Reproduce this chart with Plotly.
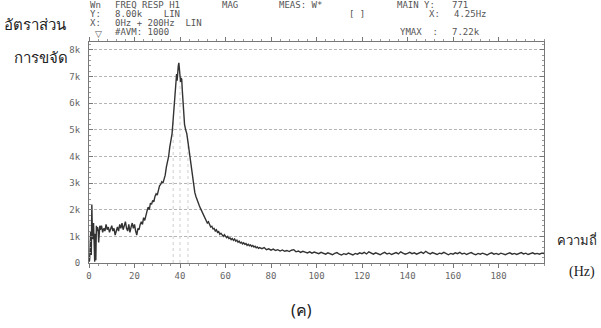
import numpy as np
import plotly.graph_objects as go

# ---- data (magnitude in thousands) ----
freq_low = [0, 0.25, 0.5, 0.75, 1.0, 1.25, 1.5, 1.75, 2.0, 2.25, 2.5, 2.75, 3.0, 3.25, 3.5, 3.75, 4.0, 4.25, 4.5, 4.75]
mag_low = [0.05, 0.1, 0.6, 1.2, 0.3, 2.2, 1.0, 0.9, 1.5, 0.2, 0.05, 1.1, 0.1, 1.4, 1.2, 1.35, 1.25, 0.77, 1.3, 1.4]

freq_mid = [5.0, 5.5, 6.0, 6.5, 7.0, 7.5, 8.0, 8.5, 9.0, 9.5, 10, 10.5, 11, 11.5, 12, 12.5, 13, 13.5, 14, 14.5,
            15, 15.5, 16, 16.5, 17, 17.5, 18, 18.5, 19, 19.5, 20, 20.5, 21, 21.5, 22, 22.5, 23, 23.5, 24, 24.5]
mag_mid = [1.25, 1.4, 1.15, 1.3, 1.2, 1.45, 1.25, 1.35, 1.15, 1.3, 1.4, 1.2, 1.3, 1.05, 1.25, 1.35, 1.2, 1.45, 1.3, 1.5,
           1.25, 1.4, 1.55, 1.3, 1.2, 1.45, 1.15, 1.35, 1.5, 1.3, 1.45, 1.2, 1.05, 1.3, 1.25, 1.45, 1.55, 1.45, 1.7, 1.6]

freq_peak = [25, 25.5, 26, 26.5, 27, 27.5, 28, 28.5, 29, 29.5, 30, 30.5, 31, 31.5, 32, 32.5, 33, 33.5, 34, 34.5,
             35, 35.5, 36, 36.5, 37, 37.5, 38, 38.5, 38.75, 39, 39.25, 39.5, 39.75, 40, 40.25, 40.5, 40.75, 41,
             41.5, 42, 42.5, 43, 43.5, 44, 44.5, 45, 45.5, 46, 46.5, 47, 47.5, 48, 48.5, 49, 49.5, 50, 50.5, 51,
             51.5, 52, 52.5, 53, 53.5, 54, 54.5, 55, 55.5, 56, 56.5, 57, 57.5, 58, 58.5, 59, 59.5, 60, 60.5, 61,
             61.5, 62, 62.5, 63, 63.5, 64, 64.5, 65, 65.5, 66, 66.5, 67, 67.5, 68, 68.5, 69, 69.5, 70, 70.5, 71,
             71.5, 72, 72.5, 73, 73.5, 74, 74.5, 75]
mag_peak = [1.85, 1.95, 2.1, 2.0, 2.25, 2.2, 2.35, 2.3, 2.5, 2.6, 2.55, 2.75, 2.9, 2.95, 3.05, 3.0, 3.15, 3.3, 3.6, 3.75,
            4.0, 4.35, 4.6, 4.85, 5.4, 5.9, 6.6, 7.1, 6.85, 7.3, 7.4, 7.52, 7.2, 6.9, 6.8, 6.95, 6.9, 6.5,
            5.7, 5.2, 5.0, 4.85, 4.55, 4.2, 3.95, 3.5, 3.15, 2.9, 2.65, 2.5, 2.35, 2.25, 2.15, 2.05, 1.95, 1.85, 1.75, 1.7,
            1.6, 1.5, 1.55, 1.42, 1.35, 1.38, 1.28, 1.3, 1.2, 1.25, 1.15, 1.18, 1.08, 1.12, 1.05, 1.0, 1.06, 0.98, 0.95, 1.0,
            0.92, 0.94, 0.88, 0.92, 0.85, 0.9, 0.82, 0.86, 0.78, 0.82, 0.75, 0.78, 0.72, 0.76, 0.7, 0.73, 0.66, 0.7, 0.65, 0.68,
            0.62, 0.66, 0.6, 0.63, 0.57, 0.6, 0.55, 0.58]

freq_tail = list(range(76, 201))
mag_tail = [0.54, 0.58, 0.5, 0.53, 0.48, 0.52, 0.47, 0.5, 0.45, 0.49, 0.44, 0.47, 0.43, 0.48, 0.5, 0.42, 0.45, 0.4, 0.44, 0.41,
            0.38, 0.42, 0.37, 0.41, 0.38, 0.35, 0.4, 0.36, 0.33, 0.38, 0.35, 0.31, 0.36, 0.39, 0.33, 0.3, 0.35, 0.32, 0.37, 0.34,
            0.3, 0.36, 0.33, 0.38, 0.35, 0.4, 0.34, 0.42, 0.36, 0.33, 0.38, 0.35, 0.31, 0.36, 0.4, 0.34, 0.37, 0.32, 0.36, 0.39,
            0.34, 0.42, 0.37, 0.33, 0.36, 0.4, 0.35, 0.38, 0.33, 0.37, 0.41, 0.36, 0.44, 0.38, 0.34, 0.39, 0.36, 0.32, 0.37, 0.35,
            0.4, 0.34, 0.31, 0.36, 0.33, 0.38, 0.35, 0.4, 0.34, 0.37, 0.32, 0.36, 0.39, 0.34, 0.31, 0.36, 0.33, 0.37, 0.34, 0.3,
            0.35, 0.38, 0.33, 0.36, 0.32, 0.37, 0.34, 0.31, 0.35, 0.38, 0.33, 0.36, 0.32, 0.35, 0.39, 0.34, 0.37, 0.32, 0.35, 0.38,
            0.34, 0.36, 0.33, 0.37, 0.35]

harmonic_hz = [37.0, 40.0, 43.5]

x_ticks = [0, 20, 40, 60, 80, 100, 120, 140, 160, 180]
y_ticks = [0, 1, 2, 3, 4, 5, 6, 7, 8]
y_ticklabels = ["0", "1k", "2k", "3k", "4k", "5k", "6k", "7k", "8k"]

freq = freq_low + freq_mid + freq_peak + freq_tail
mag = mag_low + mag_mid + mag_peak + mag_tail

# ---- figure ----
W, H = 601, 328
L, R, T, B = 89, 57, 42, 65
pw, ph = W - L - R, H - T - B


def px(xp):
    return (xp - L) / pw


def py(yp):
    return 1 - (yp - T) / ph


fig = go.Figure()

hx, hy = [], []
for h in harmonic_hz:
    hx += [h, h, None]
    hy += [0, float(np.interp(h, freq, mag)), None]
fig.add_trace(go.Scatter(x=hx, y=hy, mode="lines",
                         line=dict(color="#cfcfcf", width=1, dash="dot"),
                         hoverinfo="skip", showlegend=False))

fig.add_trace(go.Scatter(x=freq, y=mag, mode="lines",
                         line=dict(color="#333333", width=1.4),
                         showlegend=False))

tick_font = dict(family="DejaVu Sans Mono", size=9, color="#666")

fig.update_xaxes(range=[0, 200], tickvals=x_ticks, ticktext=[str(v) for v in x_ticks],
                 showgrid=False, zeroline=False, showline=True, linecolor="#777", linewidth=1,
                 mirror="ticks", ticks="outside", ticklen=4, tickcolor="#777",
                 minor=dict(dtick=4, ticks="outside", ticklen=2, tickcolor="#999"),
                 tickfont=tick_font)
fig.update_yaxes(range=[0, 8.3], tickvals=y_ticks, ticktext=y_ticklabels,
                 showgrid=True, gridcolor="#b5b5b5", griddash="3px,2px", gridwidth=1,
                 zeroline=False, showline=True, linecolor="#777", linewidth=1,
                 mirror="ticks", ticks="inside", ticklen=4, tickcolor="#777",
                 minor=dict(dtick=0.2, ticks="inside", ticklen=2, tickcolor="#999"),
                 ticklabelstandoff=6, tickfont=tick_font)

mono = dict(family="DejaVu Sans Mono", size=9, color="#555")
header = [
    (88, 5, "Wn"), (113, 5, "FREQ RESP H1"), (220, 5, "MAG"), (277, 5, "MEAS: W*"),
    (395, 5, "MAIN Y:"), (450, 5, "771"),
    (88, 14, "Y:"), (113, 14, "8.00k    LIN"), (347, 14, "[ ]"), (427, 14, "X:"), (452, 14, "4.25Hz"),
    (88, 23, "X:"), (113, 23, "0Hz + 200Hz  LIN"),
    (113, 32, "#AVM: 1000"), (398, 32, "YMAX  :"), (450, 32, "7.22k"),
]
for xp, yp, t in header:
    fig.add_annotation(text=t, xref="paper", yref="paper", x=px(xp), y=py(yp),
                       xanchor="left", yanchor="middle", showarrow=False, font=mono)

fig.add_annotation(text="▽", xref="x", yref="paper", x=4.25, y=py(34),
                   xanchor="center", yanchor="middle", showarrow=False,
                   font=dict(family="DejaVu Sans", size=9, color="#555"))

thai = dict(family="Noto Sans, DejaVu Sans", size=15, color="#222")
fig.add_annotation(text="อัตราส่วน", xref="paper", yref="paper", x=px(2), y=py(24),
                   xanchor="left", yanchor="middle", showarrow=False, font=thai)
fig.add_annotation(text="การขจัด", xref="paper", yref="paper", x=px(12), y=py(57),
                   xanchor="left", yanchor="middle", showarrow=False, font=thai)
fig.add_annotation(text="ความถี่", xref="paper", yref="paper", x=px(599), y=py(240),
                   xanchor="right", yanchor="middle", showarrow=False,
                   font=dict(family="Noto Sans, DejaVu Sans", size=13, color="#222"))
fig.add_annotation(text="(Hz)", xref="paper", yref="paper", x=px(567), y=py(272),
                   xanchor="left", yanchor="middle", showarrow=False,
                   font=dict(family="Liberation Serif", size=14, color="#222"))
fig.add_annotation(text="(ค)", xref="paper", yref="paper", x=px(301), y=py(310),
                   xanchor="center", yanchor="middle", showarrow=False,
                   font=dict(family="Noto Sans, DejaVu Sans", size=16, color="#222"))

fig.update_layout(width=W, height=H, margin=dict(l=L, r=R, t=T, b=B),
                  paper_bgcolor="white", plot_bgcolor="white")

fig.write_html("out.html")
